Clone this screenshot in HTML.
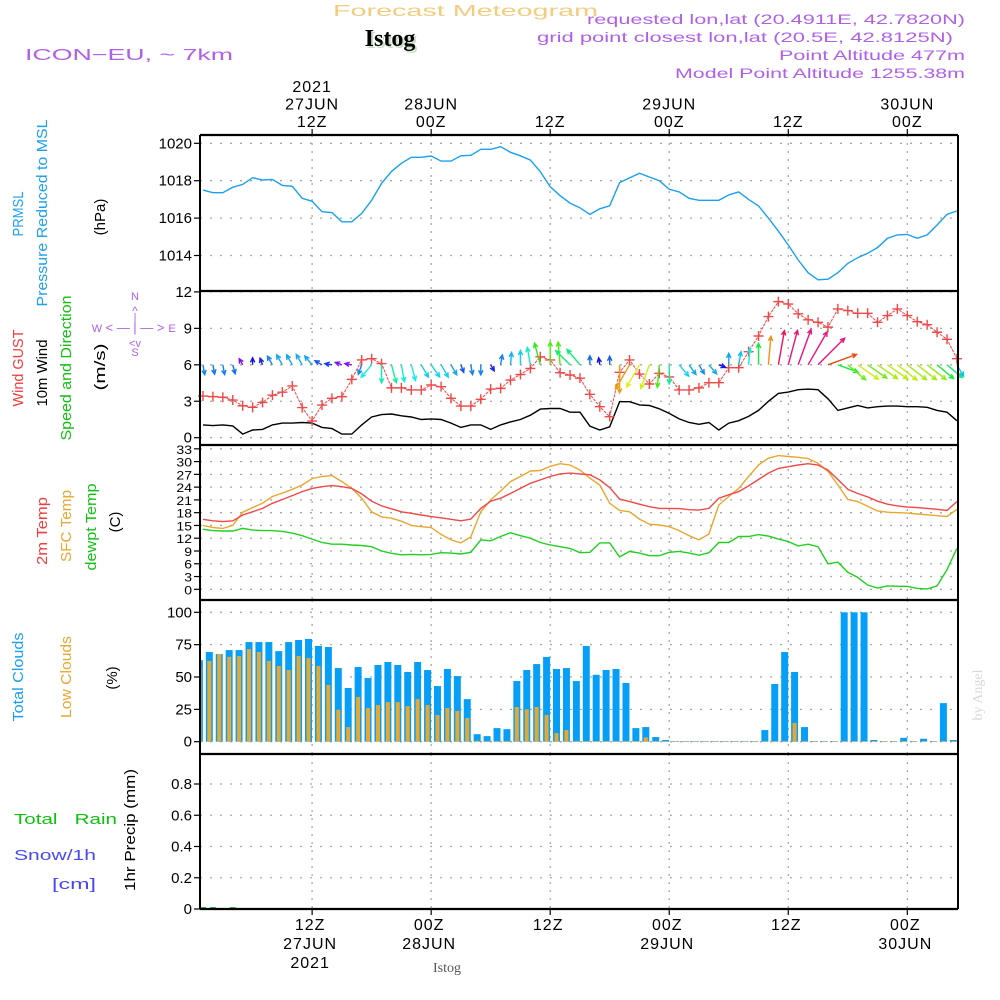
<!DOCTYPE html>
<html><head><meta charset="utf-8">
<style>
html,body{margin:0;padding:0;background:#fff;}
svg{display:block;font-family:"Liberation Sans",sans-serif;}
</style></head>
<body>
<svg id="chart" width="1000" height="1000" viewBox="0 0 1000 1000" xmlns="http://www.w3.org/2000/svg">
<g id="header">
<text x="333" y="16" font-size="16" fill="#f2cc80" textLength="265" lengthAdjust="spacingAndGlyphs">Forecast Meteogram</text>
<text x="392" y="48" text-anchor="middle" font-size="24" font-weight="bold" font-family="Liberation Serif,serif" fill="#c8dcc8">Istog</text>
<text x="390" y="46" text-anchor="middle" font-size="24" font-weight="bold" font-family="Liberation Serif,serif" fill="#000">Istog</text>
<text x="25" y="60" font-size="16" fill="#b060e8" textLength="208" lengthAdjust="spacingAndGlyphs">ICON−EU, ~ 7km</text>
<g font-size="14" fill="#b060e8">
<text x="587" y="24" textLength="378" lengthAdjust="spacingAndGlyphs">requested lon,lat (20.4911E, 42.7820N)</text>
<text x="537" y="42" textLength="416" lengthAdjust="spacingAndGlyphs">grid point closest lon,lat (20.5E, 42.8125N)</text>
<text x="779" y="60" textLength="186" lengthAdjust="spacingAndGlyphs">Point Altitude 477m</text>
<text x="675" y="78" textLength="290" lengthAdjust="spacingAndGlyphs">Model Point Altitude 1255.38m</text>
</g>
</g>
<g id="leftlabels" font-size="15">
<text transform="translate(23,214) rotate(-90)" text-anchor="middle" fill="#1aa0f0" textLength="45" lengthAdjust="spacingAndGlyphs">PRMSL</text>
<text transform="translate(47,213) rotate(-90)" text-anchor="middle" fill="#1aa0f0" textLength="187" lengthAdjust="spacingAndGlyphs">Pressure Reduced to MSL</text>
<text transform="translate(105,217) rotate(-90)" text-anchor="middle" fill="#000">(hPa)</text>
<text transform="translate(23,368) rotate(-90)" text-anchor="middle" fill="#f03c3c" textLength="77" lengthAdjust="spacingAndGlyphs">Wind GUST</text>
<text transform="translate(47,373) rotate(-90)" text-anchor="middle" fill="#000" textLength="67" lengthAdjust="spacingAndGlyphs">10m Wind</text>
<text transform="translate(71,368) rotate(-90)" text-anchor="middle" fill="#10c010" textLength="145" lengthAdjust="spacingAndGlyphs">Speed and Direction</text>
<text transform="translate(105,367) rotate(-90)" text-anchor="middle" fill="#000" textLength="47" lengthAdjust="spacingAndGlyphs">(m/s)</text>
<g fill="#b060e8" font-size="11">
<text x="97" y="332" text-anchor="middle">W</text><text x="172" y="332" text-anchor="middle">E</text>
<text x="135" y="300" text-anchor="middle">N</text><text x="135" y="356" text-anchor="middle">S</text>
<text x="135" y="332" text-anchor="middle" font-size="13" xml:space="preserve">&lt; — | — &gt;</text>
<text x="135" y="315" text-anchor="middle" font-size="12">^</text>
<text x="135" y="321" text-anchor="middle" font-size="11">|</text>
<text x="135" y="347" text-anchor="middle" font-size="11">&lt;v</text>
</g>
<text transform="translate(47,531) rotate(-90)" text-anchor="middle" fill="#f03c3c" textLength="68" lengthAdjust="spacingAndGlyphs">2m Temp</text>
<text transform="translate(71,526) rotate(-90)" text-anchor="middle" fill="#e8a830" textLength="72" lengthAdjust="spacingAndGlyphs">SFC Temp</text>
<text transform="translate(96,527) rotate(-90)" text-anchor="middle" fill="#10c010" textLength="87" lengthAdjust="spacingAndGlyphs">dewpt Temp</text>
<text transform="translate(120,522) rotate(-90)" text-anchor="middle" fill="#000">(C)</text>
<text transform="translate(23,677) rotate(-90)" text-anchor="middle" fill="#1aa0f0" textLength="89" lengthAdjust="spacingAndGlyphs">Total Clouds</text>
<text transform="translate(71,677) rotate(-90)" text-anchor="middle" fill="#e8a830" textLength="82" lengthAdjust="spacingAndGlyphs">Low Clouds</text>
<text transform="translate(117,678) rotate(-90)" text-anchor="middle" fill="#000">(%)</text>
<text x="14" y="824" fill="#10c010" xml:space="preserve" textLength="103" lengthAdjust="spacingAndGlyphs">Total   Rain</text>
<text x="14" y="860" fill="#4848f0" textLength="82" lengthAdjust="spacingAndGlyphs">Snow/1h</text>
<text x="52" y="889" fill="#4848f0" textLength="44" lengthAdjust="spacingAndGlyphs">[cm]</text>
<text transform="translate(135,830) rotate(-90)" text-anchor="middle" fill="#000" textLength="122" lengthAdjust="spacingAndGlyphs">1hr Precip (mm)</text>
<text transform="translate(982,695) rotate(-90)" text-anchor="middle" font-family="Liberation Serif,serif" font-size="14" fill="#d8d8d8">by Angel</text>
<text x="447" y="972" text-anchor="middle" font-family="Liberation Serif,serif" font-size="14" fill="#555">Istog</text>
</g>
<g id="grid"></g>
<g id="marks"></g>
<g id="frame"></g>
</svg>
<script>
var pressure=[1017.5,1017.36,1017.36,1017.65,1017.8,1018.16,1018.04,1018.07,1017.75,1017.7,1017.06,1016.9,1016.34,1016.3,1015.8,1015.8,1016.25,1016.95,1017.86,1018.5,1018.93,1019.25,1019.25,1019.32,1019.05,1019.05,1019.33,1019.36,1019.68,1019.68,1019.82,1019.52,1019.33,1019.1,1018.48,1017.68,1017.2,1016.8,1016.55,1016.2,1016.5,1016.66,1017.9,1018.15,1018.4,1018.2,1018.0,1017.54,1017.4,1017.06,1016.95,1016.95,1016.95,1017.24,1017.4,1017.0,1016.65,1016.0,1015.3,1014.56,1013.76,1013.08,1012.7,1012.73,1013.08,1013.58,1013.88,1014.12,1014.43,1014.92,1015.1,1015.13,1014.92,1015.1,1015.63,1016.2,1016.38];
var windSpeed=[1.05,1.0,1.05,0.97,0.3,0.63,0.68,1.05,1.2,1.2,1.25,1.2,0.85,0.75,0.3,0.3,1.05,1.7,1.9,1.95,1.8,1.7,1.5,1.55,1.5,1.2,0.85,1.05,1.05,0.68,1.05,1.3,1.5,1.85,2.35,2.4,2.4,2.1,2.1,0.95,0.63,0.9,2.96,2.96,2.7,2.65,2.38,2.0,1.55,1.25,1.1,1.25,0.63,1.2,1.4,1.75,2.25,3.0,3.65,3.75,3.95,4.0,3.95,3.2,2.25,2.45,2.65,2.45,2.55,2.6,2.6,2.55,2.55,2.5,2.25,2.1,1.4];
var windGust=[3.43,3.38,3.33,3.1,2.63,2.5,2.9,3.5,3.75,4.26,2.48,1.37,2.69,3.24,3.38,4.8,6.4,6.5,6.1,4.1,4.1,3.93,3.93,4.34,4.2,3.24,2.6,2.6,3.16,4.0,4.06,4.74,5.2,5.7,6.66,6.4,5.35,5.16,4.9,3.57,2.55,1.73,5.38,6.4,5.24,4.42,5.3,5.0,3.93,3.93,4.1,4.53,4.53,5.76,5.76,7.08,8.37,9.97,11.2,11.0,10.2,9.7,9.5,9.1,10.6,10.46,10.24,10.24,9.5,10.05,10.6,10.05,9.55,9.3,8.68,8.1,6.5];
var windToDir=[170,170,170,165,330,0,340,330,330,330,330,320,300,280,290,280,200,220,180,165,170,165,150,145,150,150,160,170,180,150,10,5,0,350,345,0,355,315,320,0,350,0,180,210,210,200,185,180,140,145,150,140,110,0,10,5,0,5,10,15,20,30,45,70,110,130,125,125,125,125,128,128,128,128,130,130,150];
var temp2m=[16.45,16.1,15.9,16.1,17.46,18.2,19.0,20.2,21.1,22.0,22.95,23.7,24.1,24.35,24.1,23.7,22.4,20.7,19.6,18.9,18.2,17.85,17.46,17.07,16.8,16.45,16.1,16.5,19.0,20.7,21.4,22.5,23.7,24.9,25.7,26.5,27.1,27.3,27.1,26.9,25.7,23.9,21.2,20.6,20.0,19.4,19.0,19.0,18.95,18.7,18.6,19.0,21.4,22.2,22.95,24.3,25.8,27.3,28.4,28.8,29.2,29.5,29.2,28.0,25.8,23.5,22.5,21.7,20.7,20.0,19.6,19.3,19.2,19.0,18.8,18.5,20.6];
var tempSfc=[15.0,14.5,14.3,15.0,18.1,19.2,20.2,21.8,22.6,23.5,24.5,26.0,26.5,26.7,25.3,23.7,21.4,18.2,17.0,16.7,16.0,15.0,14.7,14.5,12.9,11.6,10.9,12.3,18.2,21.0,23.1,25.3,26.5,27.8,27.9,28.9,29.5,29.2,28.0,26.1,24.5,20.2,18.5,18.2,16.5,15.3,15.1,14.7,13.8,12.6,11.6,13.0,19.8,21.8,23.7,26.5,29.2,30.8,31.4,31.2,31.0,30.7,29.6,27.7,24.5,21.1,20.6,19.5,18.4,18.1,18.0,17.9,17.7,17.5,17.3,17.1,18.8];
var dewpt=[14.1,13.8,13.7,13.7,14.3,13.9,13.8,13.8,13.6,13.2,12.6,11.8,11.0,10.6,10.6,10.4,10.3,10.0,9.0,8.46,8.1,8.2,8.1,8.2,8.6,8.5,8.3,8.7,11.6,11.4,12.4,13.3,12.6,12.0,11.0,10.4,10.0,9.6,8.6,8.7,10.9,10.9,7.6,8.9,8.5,7.9,7.9,8.7,8.9,8.5,8.0,8.6,11.0,11.0,12.4,12.4,12.85,12.5,11.8,11.2,10.2,10.6,10.0,6.0,6.4,4.0,2.8,1.0,0.3,0.8,0.7,0.7,0.2,0.1,0.8,4.6,9.6];
var totalClouds=[63,69.3,67.7,70.8,70.8,77,77,77,70,77,78.6,79.4,74,73.2,56.9,41.5,57.7,49.2,59.3,61.6,59.3,53.9,61.6,55.4,43,56.2,50.7,32.9,5.8,4.3,10.5,9.7,46.9,55.4,60,65.5,56.2,56.9,46.9,74,51.7,55.4,56.2,45.4,10.5,11.3,3.6,1.3,0.5,0.5,0.5,0.5,0.5,0.5,0.5,0.5,0.5,9,44.6,69.3,53.9,11.3,0.5,0.5,0.5,100,100,100,1.3,0.5,0.5,3,0.5,2.3,0.5,29.8,1.3];
var lowClouds=[57.7,62.4,67.7,65.5,66.2,71.6,69.3,62.4,58.5,55.4,66.2,64.6,58.5,43.8,24.7,11.3,34.5,26,28.3,30.6,30.6,27.5,32.9,28.3,20.6,26,23.7,18.3,0.8,0.5,0.5,0.5,26.8,25,26.8,20.6,6.7,9,0.5,0.5,0.5,0.5,0.5,0.5,0.5,3.3,0.5,0.5,0.5,0.5,0.5,0.5,0.5,0.5,0.5,0.5,0.5,0.5,0.5,0.5,14.4,0.5,0.5,0.5,0.5,0.5,0.5,0.5,0.5,0.5,0.5,0.5,0.5,0.5,0.5,0.5,0.5];
var precip=[0.005,0.005,0,0.005,0,0,0,0,0,0,0,0,0,0,0,0,0,0,0,0,0,0,0,0,0,0,0,0,0,0,0,0,0,0,0,0,0,0,0,0,0,0,0,0,0,0,0,0,0,0,0,0,0,0,0,0,0,0,0,0,0,0,0,0,0,0,0,0,0,0,0,0,0,0,0,0,0];
var pressureTicks=[1014,1016,1018,1020];
var windTicks=[0,3,6,9,12];
var tempTicks=[0,3,6,9,12,15,18,21,24,27,30,33];
var cloudTicks=[0,25,50,75,100];
var precipTicks=[0,0.2,0.4,0.6,0.8];
var timeTickHours=[11,23,35,47,59,71];
var topTimeLabels=[["2021","27JUN","12Z"],["28JUN","00Z"],["12Z"],["29JUN","00Z"],["12Z"],["30JUN","00Z"]];
var bottomTimeLabels=[["12Z","27JUN","2021"],["00Z","28JUN"],["12Z"],["00Z","29JUN"],["12Z"],["00Z","30JUN"]];

var NS="http://www.w3.org/2000/svg";
var X0=200,X1=958;
function xs(i){return 203+9.92*i;}
function yP(v){return 143.3+(1020-v)*18.7;}
function yW(v){return 437.7-12.15*v;}
function yT(v){return 589.3-v*4.257;}
function yC(v){return 741.7-v*1.294;}
function yR(v){return 909-v*156.25;}
function mk(tag,attrs,parent){var e=document.createElementNS(NS,tag);for(var k in attrs)e.setAttribute(k,attrs[k]);parent.appendChild(e);return e;}
var grid=document.getElementById('grid'),marks=document.getElementById('marks'),frame=document.getElementById('frame');
var panels=[{t:135,b:291,ticks:pressureTicks,y:yP,name:'pressure'},
{t:291,b:445,ticks:windTicks,y:yW,name:'wind'},
{t:445,b:600,ticks:tempTicks,y:yT,name:'temp'},
{t:600,b:754,ticks:cloudTicks,y:yC,name:'cloud'},
{t:754,b:909,ticks:precipTicks,y:yR,name:'precip'}];
panels.forEach(function(p){
  p.ticks.forEach(function(v){
    var y=p.y(v);
    var g=mk('line',{x1:X0,x2:X1,y1:y,y2:y,stroke:'#a8a8a8','stroke-width':1.3,'stroke-dasharray':'2 8'},grid);
    
    
    var tk=mk('line',{x1:X0-6,x2:X0,y1:y,y2:y,stroke:'#000','stroke-width':1.2},frame);
    
    
    var lab=mk('text',{x:X0-8,y:y+5,'text-anchor':'end','font-size':(p.name==='temp'?14:15),fill:'#000'},frame);
    
    
    if(p.name==='temp'){lab.setAttribute('transform','translate('+(X0-8)+','+(y+5)+') scale(1,0.85) translate('+(-(X0-8))+','+(-(y+5))+')');}
    lab.textContent=v;
  });
  timeTickHours.forEach(function(h){
    var x=xs(h);
    var g=mk('line',{x1:x,x2:x,y1:p.t,y2:p.b,stroke:'#a8a8a8','stroke-width':1.3,'stroke-dasharray':'2 6'},grid);
    
    
  });
});
[135,291,445,600,754,909].forEach(function(y){
  var l=mk('line',{x1:X0,x2:X1,y1:y,y2:y,stroke:'#000','stroke-width':2.2},frame);
  
  
});
var lb=mk('line',{x1:X0,x2:X0,y1:135,y2:909,stroke:'#000','stroke-width':2},frame);


var rb=mk('line',{x1:X1,x2:X1,y1:135,y2:909,stroke:'#000','stroke-width':2},frame);


timeTickHours.forEach(function(h,k){
  var x=xs(h);
  var t1=mk('line',{x1:x,x2:x,y1:129,y2:135,stroke:'#000','stroke-width':1.2},frame);
  
  
  var t2=mk('line',{x1:x,x2:x,y1:909,y2:915,stroke:'#000','stroke-width':1.2},frame);
  
  
  var top=topTimeLabels[k];
  top.forEach(function(s,j){
    var y=127-(top.length-1-j)*17.5;
    var t=mk('text',{x:x,y:y,'text-anchor':'middle','font-size':16,fill:'#000','letter-spacing':1},frame);
    
    
    t.textContent=s;
  });
  bottomTimeLabels[k].forEach(function(s,j){
    var t=mk('text',{x:x-2,y:930+j*19,'text-anchor':'middle','font-size':16,fill:'#000','letter-spacing':1},frame);
    
    
    t.textContent=s;
  });
});
function line(arr,yf,color,name,w){
  var d=arr.map(function(v,i){return (i?'L':'M')+xs(i).toFixed(1)+' '+yf(v).toFixed(1);}).join(' ');
  var p=mk('path',{d:d,fill:'none',stroke:color,'stroke-width':w||1.4},marks);
  
  
  return p;
}
var defs=mk('defs',{},document.getElementById('chart'));
var cp=mk('clipPath',{id:'plotclip'},defs);
mk('rect',{x:X0,y:600,width:X1-X0,height:154},cp);
var cg=mk('g',{'clip-path':'url(#plotclip)'},marks);
totalClouds.forEach(function(v,i){
  var cx=xs(i)-3.6;
  var r=mk('rect',{x:cx-3.5,y:yC(v),width:7,height:yC(0)-yC(v),fill:'#069ff8'},cg);
  
  
});
lowClouds.forEach(function(v,i){
  var cx=xs(i)-3.6;
  var r=mk('rect',{x:cx-2,y:yC(v),width:4,height:yC(0)-yC(v),fill:'#e8a830'},cg);
  
  
});
precip.forEach(function(v,i){
  if(v<=0)return;
  var r=mk('rect',{x:xs(i)-3,y:yR(v)-1,width:6,height:yR(0)-yR(v)+1,fill:'#10a010'},marks);
  
  
});
line(pressure,yP,'#1aa0f0','pressure-line',1.4);
line(tempSfc,yT,'#e8a830','sfc-temp-line',1.4);
line(temp2m,yT,'#f04848','temp2m-line',1.4);
line(dewpt,yT,'#20d020','dewpt-line',1.4);
line(windSpeed,yW,'#000','wind-speed-line',1.4);
line(windGust,yW,'#f04848','wind-gust-line',1).setAttribute('stroke-dasharray','3 1');
windGust.forEach(function(v,i){
  var x=xs(i),y=yW(v);
  var c=mk('path',{d:'M'+(x-5)+' '+y+'H'+(x+5)+'M'+x+' '+(y-5)+'V'+(y+5),stroke:'#f04848','stroke-width':1.4},marks);
  
  
});
function speedColor(s){
  var stops=[[0.3,270],[0.8,225],[1.2,200],[1.7,180],[2.2,140],[2.5,85],[2.75,55],[3.0,35],[3.3,5],[3.8,-30]];
  var h=stops[0][1];
  if(s>=stops[stops.length-1][0])h=stops[stops.length-1][1];
  else for(var k=0;k<stops.length-1;k++){if(s>=stops[k][0]&&s<stops[k+1][0]){var f=(s-stops[k][0])/(stops[k+1][0]-stops[k][0]);h=stops[k][1]+f*(stops[k+1][1]-stops[k][1]);}}
  return 'hsl('+((h+360)%360)+',85%,50%)';
}
windToDir.forEach(function(dir,i){
  var s=windSpeed[i];
  var L=Math.max(7,9.5*s);
  var a=dir*Math.PI/180;
  var x0=xs(i),y0=yW(6);
  var x1=x0+L*Math.sin(a),y1=y0-L*Math.cos(a);
  var hl=5;
  var a1=a+Math.PI-0.45,a2=a+Math.PI+0.45;
  var d='M'+x0.toFixed(1)+' '+y0.toFixed(1)+'L'+x1.toFixed(1)+' '+y1.toFixed(1)+
    'M'+(x1+hl*Math.sin(a1)).toFixed(1)+' '+(y1-hl*Math.cos(a1)).toFixed(1)+'L'+x1.toFixed(1)+' '+y1.toFixed(1)+
    'L'+(x1+hl*Math.sin(a2)).toFixed(1)+' '+(y1-hl*Math.cos(a2)).toFixed(1);
  var p=mk('path',{d:d,fill:'none',stroke:speedColor(s),'stroke-width':1.4},marks);
  
  
});
</script>
</body></html>
